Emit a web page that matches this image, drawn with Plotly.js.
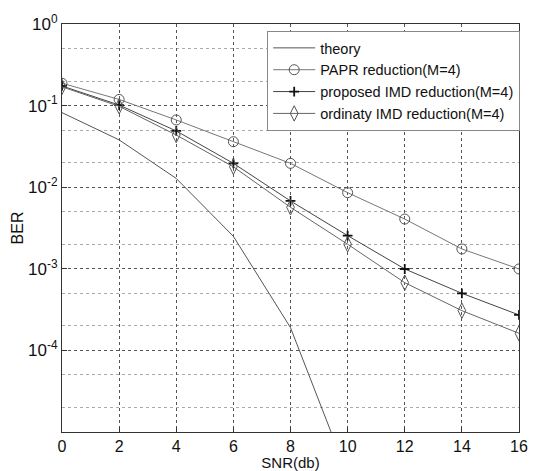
<!DOCTYPE html>
<html>
<head>
<meta charset="utf-8">
<script src="https://cdn.plot.ly/plotly-3.0.1.min.js"></script>
<style>html,body{margin:0;padding:0;background:#fff;}#chart{width:537px;height:471px;}</style>
</head>
<body>
<div id="chart"></div>
<script>
var snr = [0, 2, 4, 6, 8, 10, 12, 14, 16];
var theorySnr = [0, 2, 4, 6, 8, 10];
var theoryBer = [0.082, 0.038, 0.0128, 0.0025, 0.00019, 0.000003];
var paprBer = [0.188, 0.119, 0.0667, 0.0361, 0.0196, 0.00857, 0.00407, 0.00175, 0.000995];
var proposedBer = [0.174, 0.1016, 0.0489, 0.0196, 0.00678, 0.00255, 0.000995, 0.000501, 0.000272];
var ordinaryBer = [0.170, 0.098, 0.0436, 0.0178, 0.00567, 0.0020, 0.000676, 0.000307, 0.000162];
var seriesNames = ['theory', 'PAPR reduction(M=4)', 'proposed IMD reduction(M=4)', 'ordinaty IMD reduction(M=4)'];
var xTicks = [0, 2, 4, 6, 8, 10, 12, 14, 16];
var yTickVals = [1, 0.1, 0.01, 0.001, 0.0001];
var yTickText = ['10<sup>0</sup>', '10<sup>-1</sup>', '10<sup>-2</sup>', '10<sup>-3</sup>', '10<sup>-4</sup>'];

var font = 'Liberation Sans, Arial, sans-serif';
var traces = [
  {x: theorySnr, y: theoryBer, name: seriesNames[0], mode: 'lines',
   line: {color: '#555', width: 1, dash: 'solid'}},
  {x: snr, y: paprBer, name: seriesNames[1], mode: 'lines+markers',
   line: {color: '#777', width: 1, dash: 'solid'},
   marker: {symbol: 'circle-open', size: 10, color: '#555', line: {width: 1}}},
  {x: snr, y: proposedBer, name: seriesNames[2], mode: 'lines+markers',
   line: {color: '#444', width: 1, dash: 'solid'},
   marker: {symbol: 'cross-thin-open', size: 7, color: '#111', line: {width: 1.8, color: '#111'}}},
  {x: snr, y: ordinaryBer, name: seriesNames[3], mode: 'lines+markers',
   line: {color: '#666', width: 1, dash: 'solid'},
   marker: {symbol: 'diamond-tall-open', size: 11, color: '#555', line: {width: 1}}}
];

var layout = {
  width: 537, height: 471,
  margin: {l: 62, r: 18, t: 24, b: 39},
  paper_bgcolor: '#fff', plot_bgcolor: '#fff',
  font: {family: font, color: '#111', size: 15},
  showlegend: true,
  legend: {x: 0.449, y: 0.983, xanchor: 'left', yanchor: 'top',
           bgcolor: '#fff', bordercolor: '#888', borderwidth: 1, itemwidth: 42,
           font: {family: font, size: 14.5, color: '#111'}},
  xaxis: {range: [0, 16], tickvals: xTicks, ticktext: xTicks.map(String),
          showgrid: true, gridcolor: '#555', griddash: 'dot', gridwidth: 1,
          showline: true, linecolor: '#333', linewidth: 1, mirror: true,
          ticks: 'inside', ticklen: 5, tickcolor: '#333', zeroline: false,
          tickfont: {family: font, size: 16, color: '#111'},
          title: {text: 'SNR(db)', font: {family: font, size: 15, color: '#111'}, standoff: 4}},
  yaxis: {type: 'log', range: [-5, 0], tickvals: yTickVals, ticktext: yTickText,
          showgrid: true, gridcolor: '#555', griddash: 'dot', gridwidth: 1,
          minor: {showgrid: true, gridcolor: '#aaa', griddash: 'dot', ticks: ''},
          showline: true, linecolor: '#333', linewidth: 1, mirror: true,
          ticks: 'inside', ticklen: 5, tickcolor: '#333', zeroline: false,
          tickfont: {family: font, size: 17, color: '#111'},
          title: {text: 'BER', font: {family: font, size: 16, color: '#111'}, standoff: 0}}
};

Plotly.newPlot('chart', traces, layout, {displayModeBar: false, staticPlot: true});
</script>
</body>
</html>
